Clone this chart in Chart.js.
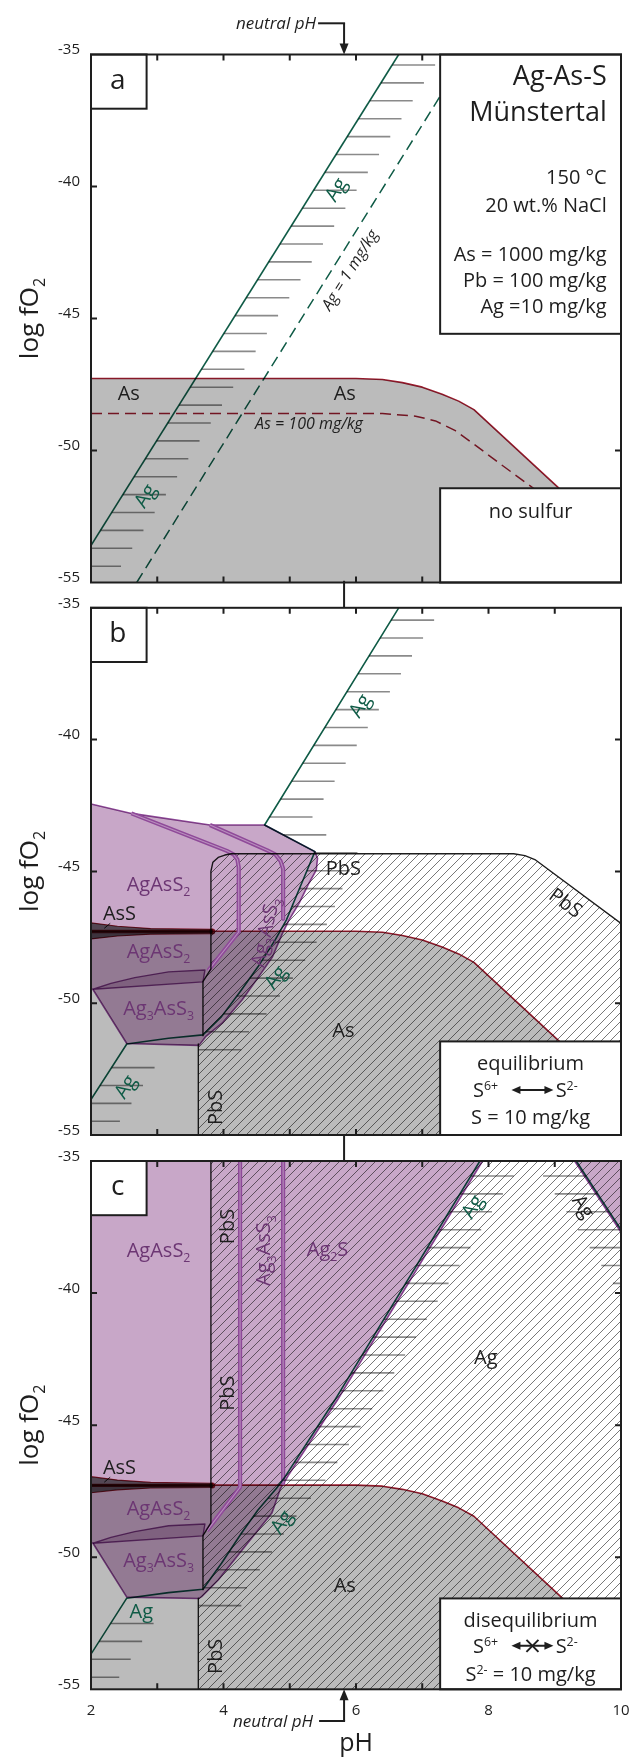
<!DOCTYPE html>
<html lang="en">
<head>
<meta charset="utf-8">
<title>Ag-As-S Münstertal</title>
<script src="https://cdn.jsdelivr.net/npm/chart.js@4.4.1/dist/chart.umd.min.js"></script>
<style>
  html, body { margin: 0; padding: 0; background: #fff; overflow: hidden; }
  body { width: 630px; height: 1759px; position: relative; }
  canvas { position: absolute; left: 0; }
</style>
</head>
<body>
<canvas id="panelA" width="650" height="620" style="top:0px"></canvas>
<canvas id="panelB" width="650" height="590" style="top:580px"></canvas>
<canvas id="panelC" width="650" height="627" style="top:1132px"></canvas>
<script>
// ---------------- axes ----------------
const xTickValues = [2, 4, 6, 8, 10];
const xTickLabels = ['2', '4', '6', '8', '10'];
const yTickValues = [-35, -40, -45, -50, -55];
const yTickLabels = ['-35', '-40', '-45', '-50', '-55'];
const minorTicksPH = [3, 4, 5, 6, 7, 8, 9];
const minorTicksLogFO2 = [-40, -45, -50];
const neutralPH = 5.82;

// ---------------- boundaries shared by all panels (pH, log fO2) ----------------
// native As / aqueous As at As = 1000 mg/kg
const asBoundary = [[2,-47.27],[6.0,-47.27],[6.4,-47.31],[6.7,-47.43],[7.0,-47.6],[7.3,-47.87],[7.55,-48.13],[7.78,-48.45],[9.05,-51.4],[10,-53.6]];
const asFieldFloor = [[10,-55],[2,-55]];
// AsS sliver and the lower-left sulfosalt wedge
const assBand = [[2,-46.95],[2.4,-47.08],[2.9,-47.17],[3.83,-47.2],[3.83,-47.36],[2.9,-47.38],[2.4,-47.45],[2,-47.56]];
const assCore = [[2,-47.28],[3.83,-47.28]];
const assLeader = [[2.29,-46.97],[2.2,-47.16]];
const wedgeField = [[2.03,-49.47],[2.3,-49.25],[2.66,-49.03],[3.17,-48.81],[3.72,-48.74],[3.69,-49.19]];

// ---------------- panel a: no sulfur ----------------
const asBoundary100 = [[2,-48.6],[6.4,-48.6],[6.9,-48.7],[7.2,-48.88],[7.5,-49.25],[7.78,-49.76],[8.2,-50.55],[8.69,-51.45],[9.2,-52.6],[9.6,-53.5]];
const agLineA = [[1.6,-55.2],[6.645,-35]];
const agLine1mgA = [[2.69,-55],[7.3,-36.46]];

// ---------------- panel b: S6+ <-> S2- equilibrium ----------------
const agUpperB = [[6.645,-35],[4.62,-43.24],[5.38,-44.25],[5.18,-45.45],[4.95,-46.84],[4.78,-47.6],[4.52,-48.62],[4.27,-49.5],[3.97,-50.51],[3.69,-51.2]];
const agLowerB = [[3.69,-51.2],[3.17,-51.33],[2.54,-51.55],[1.5,-55.6]];
const pbsFieldB = [[3.62,-55],[3.62,-51.55],[3.69,-51.25],[3.69,-49.18],[3.81,-48.7],[3.81,-45.0],[3.84,-44.65],[3.92,-44.47],[4.02,-44.38],[4.12,-44.33],[8.38,-44.33],[8.55,-44.4],[8.7,-44.55],[10,-46.97],[10,-55]];
const pbsEdgeB = [[3.69,-51.25],[3.69,-49.18],[3.81,-48.7],[3.81,-45.0],[3.84,-44.65],[3.92,-44.47],[4.02,-44.38],[4.12,-44.33],[8.38,-44.33],[8.55,-44.4],[8.7,-44.55],[10,-46.97]];
const pbsFootB = [[3.62,-51.55],[3.62,-55]];
const sulfideFieldB = [[2,-42.44],[2.61,-42.8],[3.795,-43.24],[4.62,-43.24],[5.38,-44.25],[5.42,-44.5],[5.40,-44.95],[5.29,-45.45],[5.14,-46.21],[4.99,-46.84],[4.89,-47.35],[4.74,-48.24],[4.53,-49.0],[4.28,-49.88],[3.98,-50.76],[3.73,-51.27],[3.63,-51.6],[2.54,-51.53],[2.03,-49.48],[2,-49.45]];
const sulfosaltLine1B = [[2.61,-42.8],[4.05,-44.22],[4.15,-44.35],[4.21,-44.55],[4.23,-44.85],[4.23,-47.3],[3.77,-48.76]];
const sulfosaltLine2B = [[3.795,-43.24],[4.66,-44.2],[4.78,-44.35],[4.86,-44.6],[4.9,-44.9],[4.9,-46.8]];

// ---------------- panel c: S6+ / S2- disequilibrium ----------------
const agUpperC = [[7.87,-35],[5.68,-44.05],[4.93,-46.95],[4.80,-47.39],[4.52,-48.21],[4.27,-49.09],[3.97,-50.23],[3.69,-51.21]];
const agLowerC = [[3.69,-51.21],[3.17,-51.34],[2.54,-51.55],[1.5,-55.63]];
const agRightC = [[9.325,-35],[10,-37.6],[10.7,-40.3]];
const pbsFieldC = [[3.62,-55],[3.62,-51.55],[3.69,-51.25],[3.69,-49.18],[3.81,-48.7],[3.81,-35],[10,-35],[10,-55]];
const pbsEdgeC = [[3.69,-51.25],[3.69,-49.18],[3.81,-48.7],[3.81,-35]];
const pbsFootC = [[3.62,-51.55],[3.62,-55]];
const sulfideFieldC = [[2,-35],[7.91,-35],[5.72,-44.05],[4.98,-46.9],[4.86,-47.4],[4.73,-48.33],[4.32,-49.6],[3.92,-50.86],[3.67,-51.49],[3.63,-51.56],[2.54,-51.51],[2.03,-49.47],[2,-49.45]];
const ag2sCornerC = [[9.3,-35],[10,-35],[10,-37.7]];
const sulfosaltLine1C = [[4.25,-35],[4.25,-47.35],[3.75,-49.0]];
const sulfosaltLine2C = [[4.90,-35],[4.90,-47.2]];

// ---------------- field labels: text, pH, log fO2, style, rotation ----------------
const labelsA = [
  ['As', 2.57, -47.8, 'phase'],
  ['As', 5.83, -47.8, 'phase'],
  ['As = 100 mg/kg', 5.29, -48.96, 'note'],
  ['Ag', 5.69, -40.1, 'agLine', -58],
  ['Ag', 2.81, -51.7, 'agLine', -58],
  ['Ag = 1 mg/kg', 5.9, -43.15, 'note', -58]
];
const labelsB = [
  ['Ag', 6.05, -38.7, 'agLine', -58],
  ['PbS', 5.81, -44.87, 'phase'],
  ['PbS', 9.17, -46.18, 'phase', 36],
  ['AgAsS_2', 3.02, -45.46, 'sulfide'],
  ['AsS', 2.43, -46.57, 'phase'],
  ['AgAsS_2', 3.02, -48.0, 'sulfide'],
  ['Ag_3AsS_3', 3.02, -50.17, 'sulfide'],
  ['Ag_3AsS_3', 4.62, -47.29, 'sulfide', -77],
  ['Ag', 4.78, -49.01, 'agLine', -55],
  ['As', 5.81, -51.02, 'phase'],
  ['Ag', 2.51, -53.15, 'agLine', -57],
  ['PbS', 3.87, -53.95, 'phase', -90]
];
const labelsC = [
  ['AgAsS_2', 3.02, -38.36, 'sulfide'],
  ['PbS', 4.05, -37.48, 'phase', -90],
  ['Ag_3AsS_3', 4.6, -38.39, 'sulfide', -90],
  ['Ag_2S', 5.57, -38.31, 'sulfide'],
  ['Ag', 7.75, -36.71, 'agLine', -58],
  ['Ag', 9.44, -36.71, 'phase', 57],
  ['Ag', 7.96, -42.42, 'phase'],
  ['PbS', 4.05, -43.79, 'phase', -90],
  ['AsS', 2.43, -46.57, 'phase'],
  ['AgAsS_2', 3.02, -48.12, 'sulfide'],
  ['Ag_3AsS_3', 3.02, -50.1, 'sulfide'],
  ['Ag', 4.87, -48.65, 'agLine', -55],
  ['As', 5.83, -51.04, 'phase'],
  ['Ag', 2.76, -52.04, 'agLine'],
  ['PbS', 3.87, -53.75, 'phase', -90]
];

// ---------------- styling ----------------
const FONT = '"Open Sans", "Noto Sans", "DejaVu Sans", sans-serif';
const INK = '#1e1e1e';
const GREEN = '#0f5b46';
const RED = '#9c1c2e';
const PURPLE = '#8f4a99';
const PURPLE_FILL = '#c8a7c8';
const PURPLE_TEXT = '#6c3673';
const PURPLE_CORE = '#b98fbe';
const GRAY_FILL = '#bbbbbb';
const ASS_FILL = '#6a6a6a';
const WEDGE_FILL = '#dccadc';
const HASH = '#8a8a8a';
const HASH_STEP = 17.9;
const HASH_LEN = 43;
const LABEL_STYLES = {
  phase:   { size: 20, color: INK },
  sulfide: { size: 20, color: PURPLE_TEXT },
  agLine:  { size: 20, color: GREEN },
  note:    { size: 16, color: INK, italic: true }
};

// diagonal hatching used for the PbS field
const hatchTile = document.createElement('canvas');
hatchTile.width = hatchTile.height = 9;
const htx = hatchTile.getContext('2d');
htx.strokeStyle = '#555555';
htx.lineWidth = 0.8;
htx.beginPath();
htx.moveTo(-1, 10); htx.lineTo(10, -1);
htx.moveTo(-1, 1); htx.lineTo(1, -1);
htx.moveTo(8, 10); htx.lineTo(10, 8);
htx.stroke();
const HATCH = htx.createPattern(hatchTile, 'repeat');

// ---------------- dataset helpers ----------------
function line(pts, color, width, extra) {
  return Object.assign({
    data: pts.map(([x, y]) => ({x, y})),
    borderColor: color, borderWidth: width, backgroundColor: color,
    fill: false, pointRadius: 0, tension: 0, borderJoinStyle: 'round'
  }, extra || {});
}
function poly(pts, fillStyle, extra) {
  const ring = pts.concat([pts[0]]);
  return Object.assign({
    data: ring.map(([x, y]) => ({x, y})),
    backgroundColor: fillStyle, borderColor: 'transparent', borderWidth: 0.01,
    fill: 'shape', pointRadius: 0, tension: 0, borderJoinStyle: 'round'
  }, extra || {});
}
function doubleLine(pts) {
  return [
    line(pts, PURPLE, 4.2, {blendMode: 'source-over'}),
    line(pts, PURPLE_CORE, 1.1, {blendMode: 'source-over'})
  ];
}
function ordered(list) {
  const n = list.length;
  return list.map((d, i) => Object.assign(d, {order: n - i}));
}
const dotAtEnd = {
  pointRadius: c => (c.dataIndex === 1 ? 3 : 0),
  pointBackgroundColor: RED, pointBorderWidth: 0
};

const datasetsA = ordered([
  poly(asBoundary.concat(asFieldFloor), GRAY_FILL),
  line(asBoundary100, RED, 1.5, {borderDash: [11, 6]}),
  line(asBoundary, RED, 1.6),
  line(agLine1mgA, GREEN, 1.5, {borderDash: [11, 6]}),
  line(agLineA, GREEN, 1.6)
]);

const datasetsB = ordered([
  poly(asBoundary.concat(asFieldFloor), GRAY_FILL),
  poly(pbsFieldB, HATCH),
  poly(sulfideFieldB, PURPLE_FILL, {borderColor: PURPLE, borderWidth: 1.6}),
  poly(wedgeField, WEDGE_FILL, {borderColor: PURPLE, borderWidth: 1.4}),
  poly(assBand, ASS_FILL, {borderColor: RED, borderWidth: 1.2}),
  line(asBoundary, RED, 1.6),
  line(assCore, RED, 3.4, dotAtEnd),
  ...doubleLine(sulfosaltLine1B),
  ...doubleLine(sulfosaltLine2B),
  line(pbsEdgeB, INK, 1.4),
  line(pbsFootB, INK, 1.4),
  line(agUpperB.concat(agLowerB.slice(1)), GREEN, 1.6),
  line(assLeader, INK, 1)
]);

const datasetsC = ordered([
  poly(asBoundary.concat(asFieldFloor), GRAY_FILL),
  poly(pbsFieldC, HATCH),
  poly(sulfideFieldC, PURPLE_FILL, {borderColor: PURPLE, borderWidth: 1.6}),
  poly(ag2sCornerC, PURPLE_FILL, {borderColor: PURPLE, borderWidth: 1.6}),
  poly(wedgeField, WEDGE_FILL, {borderColor: PURPLE, borderWidth: 1.4}),
  poly(assBand, ASS_FILL, {borderColor: RED, borderWidth: 1.2}),
  line(asBoundary, RED, 1.6),
  line(assCore, RED, 3.4, dotAtEnd),
  ...doubleLine(sulfosaltLine1C),
  ...doubleLine(sulfosaltLine2C),
  line(pbsEdgeC, INK, 1.4),
  line(pbsFootC, INK, 1.4),
  line(agUpperC.concat(agLowerC.slice(1)), GREEN, 1.6),
  line(agRightC, GREEN, 1.6),
  line(assLeader, INK, 1)
]);

// ---------------- text helpers ----------------
function parseRich(s) {
  const out = [];
  let buf = '';
  for (let i = 0; i < s.length; i++) {
    const ch = s[i];
    if (ch === '_' || ch === '^') {
      if (buf) { out.push([buf, '']); buf = ''; }
      let t;
      if (s[i + 1] === '{') { const j = s.indexOf('}', i); t = s.slice(i + 2, j); i = j; }
      else { t = s[i + 1]; i++; }
      out.push([t, ch === '_' ? 'sub' : 'sup']);
    } else buf += ch;
  }
  if (buf) out.push([buf, '']);
  return out;
}
function drawRich(ctx, text, x, y, o) {
  const size = o.size;
  const fontOf = k => `${o.italic ? 'italic ' : ''}${k ? size * 0.62 : size}px ${FONT}`;
  ctx.save();
  ctx.translate(x, y);
  if (o.rot) ctx.rotate(o.rot * Math.PI / 180);
  let w = 0;
  const items = parseRich(text).map(([t, k]) => {
    ctx.font = fontOf(k);
    const m = ctx.measureText(t).width;
    w += m;
    return {t, k, m};
  });
  let cx = o.align === 'right' ? -w : (o.align === 'left' ? 0 : -w / 2);
  ctx.fillStyle = o.color || INK;
  ctx.textAlign = 'left';
  ctx.textBaseline = 'alphabetic';
  const base = size * 0.36;
  for (const it of items) {
    ctx.font = fontOf(it.k);
    const dy = it.k === 'sub' ? size * 0.26 : (it.k === 'sup' ? -size * 0.36 : 0);
    ctx.fillText(it.t, cx, base + dy);
    cx += it.m;
  }
  ctx.restore();
}
function whiteBox(ctx, x0, y0, x1, y1) {
  ctx.save();
  ctx.fillStyle = '#fff';
  ctx.fillRect(x0, y0, x1 - x0, y1 - y0);
  ctx.strokeStyle = INK;
  ctx.lineWidth = 2;
  ctx.strokeRect(x0, y0, x1 - x0, y1 - y0);
  ctx.restore();
}
function arrowHead(ctx, x, y, dx, dy, len, half) {
  // tip at (x, y), pointing along (dx, dy)
  const px = -dy, py = dx;
  ctx.beginPath();
  ctx.moveTo(x, y);
  ctx.lineTo(x - dx * len + px * half, y - dy * len + py * half);
  ctx.lineTo(x - dx * len - px * half, y - dy * len - py * half);
  ctx.closePath();
  ctx.fill();
}
function seg(ctx, x0, y0, x1, y1, w) {
  ctx.lineWidth = w;
  ctx.beginPath();
  ctx.moveTo(x0, y0);
  ctx.lineTo(x1, y1);
  ctx.stroke();
}
function reactionArrow(ctx, x0, x1, y, blocked) {
  ctx.save();
  ctx.strokeStyle = INK; ctx.fillStyle = INK;
  seg(ctx, x0 + 5, y, x1 - 5, y, 2);
  arrowHead(ctx, x0, y, -1, 0, 9, 4);
  arrowHead(ctx, x1, y, 1, 0, 9, 4);
  if (blocked) {
    const cx = (x0 + x1) / 2;
    seg(ctx, cx - 6, y - 6, cx + 6, y + 6, 2);
    seg(ctx, cx - 6, y + 6, cx + 6, y - 6, 2);
  }
  ctx.restore();
}

// ---------------- boundary hachures ----------------
function crossX(pts, py, xs, ys) {
  for (let i = 0; i < pts.length - 1; i++) {
    const y0 = ys.getPixelForValue(pts[i][1]);
    const y1 = ys.getPixelForValue(pts[i + 1][1]);
    if (y0 !== y1 && (py - y0) * (py - y1) <= 0) {
      const x0 = xs.getPixelForValue(pts[i][0]);
      const x1 = xs.getPixelForValue(pts[i + 1][0]);
      return x0 + (x1 - x0) * (py - y0) / (y1 - y0);
    }
  }
  return null;
}
function drawHashes(chart, spec) {
  const {ctx, chartArea: a, scales: {x, y}} = chart;
  ctx.save();
  ctx.beginPath();
  ctx.rect(a.left, a.top, a.right - a.left, a.bottom - a.top);
  ctx.clip();
  ctx.strokeStyle = HASH;
  ctx.lineWidth = 1.6;
  ctx.beginPath();
  for (let py = a.top + spec.offset; py < a.bottom - 1; py += HASH_STEP) {
    const v = y.getValueForPixel(py);
    for (const g of spec.guides) {
      if (g.above !== undefined && v < g.above) continue;
      if (g.below !== undefined && v > g.below) continue;
      const px = crossX(g.line, py, x, y);
      if (px === null) continue;
      ctx.moveTo(Math.max(px, a.left - 2), py);
      ctx.lineTo(px + g.dir * HASH_LEN, py);
    }
  }
  ctx.stroke();
  ctx.restore();
}

// ---------------- per-panel decorations ----------------
function frameAndTicks(chart) {
  const {ctx, chartArea: a, scales: {x, y}} = chart;
  ctx.save();
  ctx.strokeStyle = INK;
  ctx.lineWidth = 2;
  ctx.beginPath();
  for (const v of minorTicksPH) {
    const px = x.getPixelForValue(v);
    ctx.moveTo(px, a.top); ctx.lineTo(px, a.top + 6);
    ctx.moveTo(px, a.bottom); ctx.lineTo(px, a.bottom - 6);
  }
  for (const v of minorTicksLogFO2) {
    const py = y.getPixelForValue(v);
    ctx.moveTo(a.left, py); ctx.lineTo(a.left + 6, py);
    ctx.moveTo(a.right, py); ctx.lineTo(a.right - 6, py);
  }
  ctx.stroke();
  ctx.restore();
}
function outline(chart) {
  const {ctx, chartArea: a} = chart;
  ctx.save();
  ctx.strokeStyle = INK;
  ctx.lineWidth = 2;
  ctx.strokeRect(a.left, a.top, a.right - a.left, a.bottom - a.top);
  ctx.restore();
}

function decorateA(chart) {
  const {ctx, chartArea: a, scales: {x, y}} = chart;
  const bx = x.getPixelForValue(7.27);
  const infoBottom = y.getPixelForValue(-45.58);
  whiteBox(ctx, bx, a.top, a.right, infoBottom);
  const tx = a.right - 14.3;
  drawRich(ctx, 'Ag-As-S', tx, a.top + 20.9, {size: 27, align: 'right'});
  drawRich(ctx, 'Münstertal', tx, a.top + 57.2, {size: 27, align: 'right'});
  drawRich(ctx, '150 °C', tx, a.top + 122.3, {size: 20, align: 'right'});
  drawRich(ctx, '20 wt.% NaCl', tx, a.top + 150.2, {size: 20, align: 'right'});
  drawRich(ctx, 'As = 1000 mg/kg', tx, a.top + 198.8, {size: 20, align: 'right'});
  drawRich(ctx, 'Pb = 100 mg/kg', tx, a.top + 225.5, {size: 20, align: 'right'});
  drawRich(ctx, 'Ag =10 mg/kg', tx, a.top + 251.5, {size: 20, align: 'right'});
  const nsTop = y.getPixelForValue(-51.43);
  whiteBox(ctx, bx, nsTop, a.right, a.bottom);
  drawRich(ctx, 'no sulfur', (bx + a.right) / 2, nsTop + 23, {size: 20});
}
function decorateB(chart) {
  const {ctx, chartArea: a, scales: {x, y}} = chart;
  const bx = x.getPixelForValue(7.27);
  const top = y.getPixelForValue(-51.45);
  whiteBox(ctx, bx, top, a.right, a.bottom);
  const cx = (bx + a.right) / 2;
  drawRich(ctx, 'equilibrium', cx, top + 21.8, {size: 20});
  drawRich(ctx, 'S^{6+}', bx + 58, top + 48.6, {size: 20, align: 'right'});
  reactionArrow(ctx, bx + 71.3, bx + 113.3, top + 48.6, false);
  drawRich(ctx, 'S^{2-}', bx + 115.5, top + 48.6, {size: 20, align: 'left'});
  drawRich(ctx, 'S = 10 mg/kg', cx, top + 75.4, {size: 20});
}
function decorateC(chart) {
  const {ctx, chartArea: a, scales: {x, y}} = chart;
  const bx = x.getPixelForValue(7.27);
  const top = y.getPixelForValue(-51.56);
  whiteBox(ctx, bx, top, a.right, a.bottom);
  const cx = (bx + a.right) / 2;
  drawRich(ctx, 'disequilibrium', cx, top + 21, {size: 20});
  drawRich(ctx, 'S^{6+}', bx + 58, top + 47.4, {size: 20, align: 'right'});
  reactionArrow(ctx, bx + 71.3, bx + 113.3, top + 47.4, true);
  drawRich(ctx, 'S^{2-}', bx + 115.5, top + 47.4, {size: 20, align: 'left'});
  drawRich(ctx, 'S^{2-} = 10 mg/kg', cx, top + 75.6, {size: 20});
}

const PANELS = {
  panelA: { letter: 'a', labels: labelsA, decorate: decorateA, link: 'top',
            hashes: { offset: 10.5, guides: [{line: agLineA, dir: 1}] } },
  panelB: { letter: 'b', labels: labelsB, decorate: decorateB, link: 'middle',
            hashes: { offset: 12.3, guides: [
              {line: agUpperB.concat(pbsFootB), dir: 1, above: -52.1},
              {line: agLowerB, dir: 1, below: -52.1}] } },
  panelC: { letter: 'c', labels: labelsC, decorate: decorateC, link: 'bottom',
            hashes: { offset: 15, guides: [
              {line: agUpperC.concat(pbsFootC), dir: 1, above: -52.1},
              {line: agLowerC, dir: 1, below: -52.1},
              {line: agRightC, dir: -1}] } }
};

function neutralMarker(chart, where) {
  const {ctx, chartArea: a, scales: {x}} = chart;
  const nx = x.getPixelForValue(neutralPH);
  ctx.save();
  ctx.strokeStyle = INK; ctx.fillStyle = INK;
  if (where === 'top') {
    const ly = a.top - 31.2;
    seg(ctx, nx - 26, ly, nx + 1, ly, 2);
    seg(ctx, nx, ly, nx, a.top - 8, 2);
    arrowHead(ctx, nx, a.top, 0, 1, 11, 4.5);
    drawRich(ctx, 'neutral pH', nx - 28, ly, {size: 17, italic: true, align: 'right'});
  } else {
    seg(ctx, nx, a.top - 27, nx, a.top, 2);
  }
  if (where === 'bottom') {
    const ly = a.bottom + 31.7;
    seg(ctx, nx - 25, ly, nx + 1, ly, 2);
    seg(ctx, nx, ly, nx, a.bottom + 8, 2);
    arrowHead(ctx, nx, a.bottom, 0, -1, 11, 4.5);
    drawRich(ctx, 'neutral pH', nx - 31, ly, {size: 17, italic: true, align: 'right'});
  }
  ctx.restore();
}

const panelPlugin = {
  id: 'phasePanel',
  beforeDatasetsDraw(chart) {
    chart.ctx.save();
    chart.ctx.globalCompositeOperation = 'multiply';
  },
  beforeDatasetDraw(chart, args) {
    const ds = chart.data.datasets[args.index];
    chart.ctx.globalCompositeOperation = ds.blendMode || 'multiply';
  },
  afterDatasetDraw(chart) {
    chart.ctx.globalCompositeOperation = 'multiply';
  },
  afterDatasetsDraw(chart) {
    drawHashes(chart, PANELS[chart.canvas.id].hashes);
    chart.ctx.restore();
  },
  afterDraw(chart) {
    const spec = PANELS[chart.canvas.id];
    const {ctx, chartArea: a, scales: {x, y}} = chart;
    frameAndTicks(chart);
    spec.decorate(chart);
    // panel letter
    whiteBox(ctx, a.left, a.top, a.left + 55.6, a.top + 54.2);
    drawRich(ctx, spec.letter, a.left + 26.7, a.top + 24, {size: 28});
    outline(chart);
    // field labels
    for (const [t, px, v, style, rot] of spec.labels) {
      drawRich(ctx, t, x.getPixelForValue(px), y.getPixelForValue(v),
               Object.assign({rot: rot || 0}, LABEL_STYLES[style]));
    }
    // y-axis title
    drawRich(ctx, 'log fO_2', 29, (a.top + a.bottom) / 2, {size: 26, rot: -90, color: INK});
    neutralMarker(chart, spec.link);
  }
};

function makePanel(id, datasets, layout) {
  return new Chart(document.getElementById(id), {
    type: 'line',
    data: { datasets },
    options: {
      responsive: false,
      animation: false,
      devicePixelRatio: 1,
      events: [],
      layout: { padding: layout.padding },
      plugins: { legend: { display: false }, tooltip: { enabled: false } },
      scales: {
        x: {
          type: 'linear', min: 2, max: 10,
          display: layout.showX,
          grid: { display: false, drawTicks: false },
          border: { display: false },
          afterBuildTicks: s => { s.ticks = xTickValues.map(v => ({value: v})); },
          afterFit: s => { s.height = layout.xHeight || 0; },
          ticks: { padding: 12, color: INK, font: { family: FONT, size: 15 },
                   callback: (v, i) => xTickLabels[i] },
          title: { display: layout.showX, text: 'pH', color: INK, padding: 0,
                   font: { family: FONT, size: 25 } }
        },
        y: {
          type: 'linear', min: -55, max: -35,
          grid: { display: false, drawTicks: false },
          border: { display: false },
          afterBuildTicks: s => { s.ticks = yTickValues.map(v => ({value: v})); },
          afterFit: s => { s.width = 91; },
          ticks: { padding: 11, labelOffset: -4.5, color: INK, font: { family: FONT, size: 15 },
                   callback: (v, i) => yTickLabels[i] }
        }
      }
    },
    plugins: [panelPlugin]
  });
}

makePanel('panelA', datasetsA, { padding: {left: 0, right: 29, top: 54.5, bottom: 37.5}, showX: false });
makePanel('panelB', datasetsB, { padding: {left: 0, right: 29, top: 27.8, bottom: 35}, showX: false });
makePanel('panelC', datasetsC, { padding: {left: 0, right: 29, top: 29, bottom: 0}, showX: true, xHeight: 69.7 });
</script>
</body>
</html>
